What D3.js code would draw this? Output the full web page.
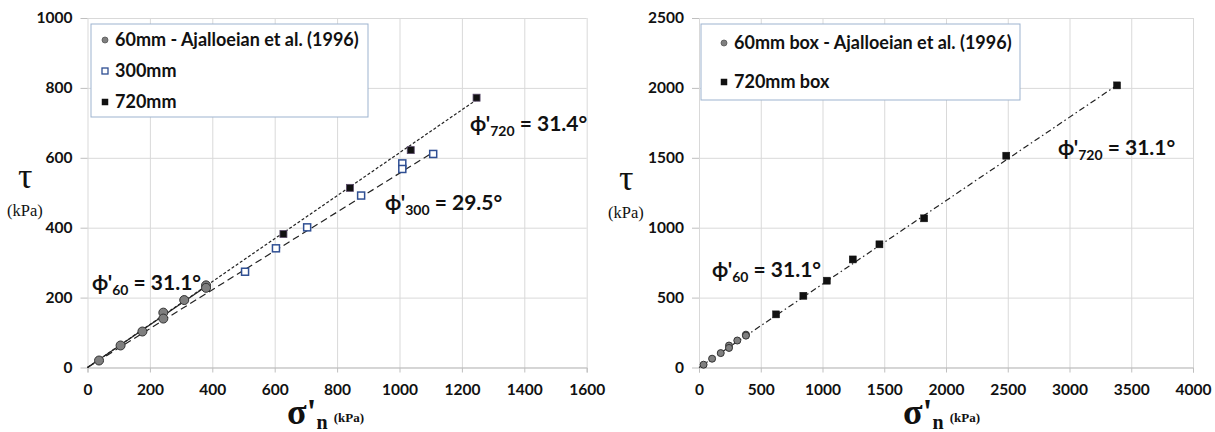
<!DOCTYPE html>
<html>
<head>
<meta charset="utf-8">
<script src="https://cdn.jsdelivr.net/npm/d3@7"></script>
<style>
  body { margin: 0; background: #fff; }
  svg { display: block; }
  .tick text { font-family: Lato, "Open Sans", sans-serif; font-weight: 700; font-size: 15.5px; fill: #111; }
</style>
</head>
<body>
<svg id="chart" width="1215" height="432"></svg>
<script>
// --- data (sigma'n kPa, tau kPa) ---
var box60 = [[37,20],[106,63],[176,103],[243,157],[243,140],[310,193],[380,235],[380,228]]
var box300 = [[505,274],[604,341],[704,401],[877,492],[1009,584],[1009,568],[1108,611]]
var box720 = [[628,382],[841,514],[1036,622],[1247,772]]
var box720b = [[624,380],[845,513],[1035,621],[1245,773],[1461,881],[1823,1067],[2488,1515],[3385,2018]]

// fitted lines (end points)
var fit60 = [[0,0],[380,232]]
var fit300 = [[0,0],[1110,617]]
var fit720 = [[0,0],[1250,768]]
var fit720b = [[0,0],[3385,2020]]

var leftXTicks = [0,200,400,600,800,1000,1200,1400,1600]
var leftYTicks = [0,200,400,600,800,1000]
var rightXTicks = [0,500,1000,1500,2000,2500,3000,3500,4000]
var rightYTicks = [0,500,1000,1500,2000,2500]

var svg = d3.select('#chart')

function panel(opt){
	var x = d3.scaleLinear().domain(opt.xDomain).range(opt.xRange)
	var y = d3.scaleLinear().domain(opt.yDomain).range(opt.yRange)
	var g = svg.append('g')
	var w = opt.xRange[1] - opt.xRange[0], h = opt.yRange[0] - opt.yRange[1]

	// grid
	g.append('g')
		.attr('transform', 'translate(0,' + opt.yRange[0] + ')')
		.call(d3.axisBottom(x).tickValues(opt.xTicks).tickSize(-h).tickFormat(''))
		.call(function(s){ s.select('.domain').remove(); s.selectAll('line').attr('stroke', '#d9d9d9') })
	g.append('g')
		.attr('transform', 'translate(' + opt.xRange[0] + ',0)')
		.call(d3.axisLeft(y).tickValues(opt.yTicks).tickSize(-w).tickFormat(''))
		.call(function(s){ s.select('.domain').remove(); s.selectAll('line').attr('stroke', '#d9d9d9') })

	// axes
	g.append('g')
		.attr('transform', 'translate(0,' + opt.yRange[0] + ')')
		.call(d3.axisBottom(x).tickValues(opt.xTicks).tickSize(5).tickPadding(11).tickFormat(d3.format('d')))
		.call(function(s){ s.select('.domain').attr('stroke', '#bfbfbf'); s.selectAll('line').attr('stroke', '#bfbfbf') })
	g.append('g')
		.attr('transform', 'translate(' + opt.xRange[0] + ',0)')
		.call(d3.axisLeft(y).tickValues(opt.yTicks).tickSize(7).tickPadding(8).tickFormat(d3.format('d')))
		.call(function(s){ s.select('.domain').remove(); s.selectAll('line').attr('stroke', '#bfbfbf') })

	var line = d3.line().x(function(d){ return x(d[0]) }).y(function(d){ return y(d[1]) })
	opt.lines.forEach(function(l){
		g.append('path').datum(l.data).attr('d', line)
			.attr('fill', 'none').attr('stroke', '#222').attr('stroke-width', 1.2)
			.attr('stroke-dasharray', l.dash)
	})

	opt.series.forEach(function(s){
		var sel = g.selectAll(null).data(s.data)
		if(s.shape === 'circle'){
			sel.enter().append('circle')
				.attr('cx', function(d){ return x(d[0]) }).attr('cy', function(d){ return y(d[1]) })
				.attr('r', s.r).attr('fill', '#7f7f7f').attr('stroke', '#333').attr('stroke-width', 1)
		} else {
			sel.enter().append('rect')
				.attr('x', function(d){ return x(d[0]) - s.size / 2 }).attr('y', function(d){ return y(d[1]) - s.size / 2 })
				.attr('width', s.size).attr('height', s.size)
				.attr('fill', s.fill).attr('stroke', s.stroke).attr('stroke-width', s.sw)
		}
	})

	// legend
	var L = opt.legend
	var lg = g.append('g').attr('transform', 'translate(' + L.x + ',' + L.y + ')')
	lg.append('rect').attr('width', L.w).attr('height', L.h)
		.attr('fill', '#fff').attr('stroke', '#9db3cf').attr('stroke-width', 1)
	L.items.forEach(function(it, i){
		var cy = L.first + i * L.step
		if(it.shape === 'circle'){
			lg.append('circle').attr('cx', L.mx).attr('cy', cy).attr('r', 3)
				.attr('fill', '#7f7f7f').attr('stroke', '#555').attr('stroke-width', 0.8)
		} else {
			lg.append('rect').attr('x', L.mx - 3).attr('y', cy - 3).attr('width', 6).attr('height', 6)
				.attr('fill', it.fill).attr('stroke', it.stroke).attr('stroke-width', it.sw)
		}
		lg.append('text').attr('x', L.tx).attr('y', cy).attr('dy', '0.35em')
			.attr('font-family', 'Lato, sans-serif').attr('font-weight', 700).attr('font-size', 18)
			.attr('fill', '#111').text(it.label)
	})

	// phi labels
	opt.notes.forEach(function(n){
		var t = g.append('text').attr('x', n.x).attr('y', n.y)
			.attr('font-family', 'Lato, sans-serif').attr('font-weight', 700).attr('font-size', 21).attr('fill', '#111')
		t.append('tspan').text("\u03d5'")
		t.append('tspan').attr('font-size', 14).attr('dy', 5).text(n.sub)
		t.append('tspan').attr('dy', -5).text(' = ' + n.val)
	})

	// axis titles
	g.append('text').attr('x', opt.tau.x).attr('y', opt.tau.y)
		.attr('font-family', '"Liberation Serif", serif').attr('font-size', 36).attr('fill', '#111').text('\u03c4')
	g.append('text').attr('x', opt.tau.x - 11).attr('y', opt.tau.y + 28)
		.attr('font-family', '"Liberation Serif", serif').attr('font-size', 16.5).attr('fill', '#111').text('(kPa)')
	var st = g.append('text').attr('x', opt.sig.x).attr('y', opt.sig.y)
		.attr('font-family', '"Liberation Serif", serif').attr('font-weight', 700).attr('fill', '#111')
	st.append('tspan').attr('font-size', 36).text("\u03c3'")
	st.append('tspan').attr('font-size', 20).attr('dy', 5).text('n')
	st.append('tspan').attr('font-size', 13).attr('dy', -7).attr('dx', 6).text('(kPa)')
}

panel({
	xDomain: [0, 1600], xRange: [87.5, 586.7],
	yDomain: [0, 1000], yRange: [367.5, 18],
	xTicks: leftXTicks, yTicks: leftYTicks,
	lines: [
		{data: fit720, dash: '3,2'},
		{data: fit300, dash: '7,4'},
		{data: fit60, dash: null}
	],
	series: [
		{data: box60, shape: 'circle', r: 4.5},
		{data: box300, shape: 'rect', size: 7, fill: '#fff', stroke: '#2f4f93', sw: 1.5},
		{data: box720, shape: 'rect', size: 7, fill: '#111', stroke: '#5a4a6a', sw: 0.8}
	],
	legend: {x: 91, y: 24, w: 277, h: 93, first: 16, step: 31, mx: 14, tx: 24, items: [
		{shape: 'circle', label: '60mm - Ajalloeian et al. (1996)'},
		{shape: 'rect', fill: '#fff', stroke: '#2f4f93', sw: 1.3, label: '300mm'},
		{shape: 'rect', fill: '#111', stroke: '#111', sw: 0.5, label: '720mm'}
	]},
	notes: [
		{x: 92, y: 290, sub: '60', val: '31.1\u00b0'},
		{x: 470, y: 131, sub: '720', val: '31.4\u00b0'},
		{x: 385, y: 210, sub: '300', val: '29.5\u00b0'}
	],
	tau: {x: 18, y: 188},
	sig: {x: 287, y: 424}
})

panel({
	xDomain: [0, 4000], xRange: [699, 1193],
	yDomain: [0, 2500], yRange: [367.5, 18],
	xTicks: rightXTicks, yTicks: rightYTicks,
	lines: [
		{data: fit720b, dash: '6,3,1.5,3'}
	],
	series: [
		{data: box60, shape: 'circle', r: 3.5},
		{data: box720b, shape: 'rect', size: 7, fill: '#111', stroke: '#111', sw: 0.5}
	],
	legend: {x: 701, y: 24, w: 319, h: 76, first: 19, step: 39, mx: 23, tx: 33, items: [
		{shape: 'circle', label: '60mm box - Ajalloeian et al. (1996)'},
		{shape: 'rect', fill: '#111', stroke: '#111', sw: 0.5, label: '720mm box'}
	]},
	notes: [
		{x: 712, y: 277, sub: '60', val: '31.1\u00b0'},
		{x: 1058, y: 155, sub: '720', val: '31.1\u00b0'}
	],
	tau: {x: 619, y: 190},
	sig: {x: 903, y: 424}
})
</script>
</body>
</html>
